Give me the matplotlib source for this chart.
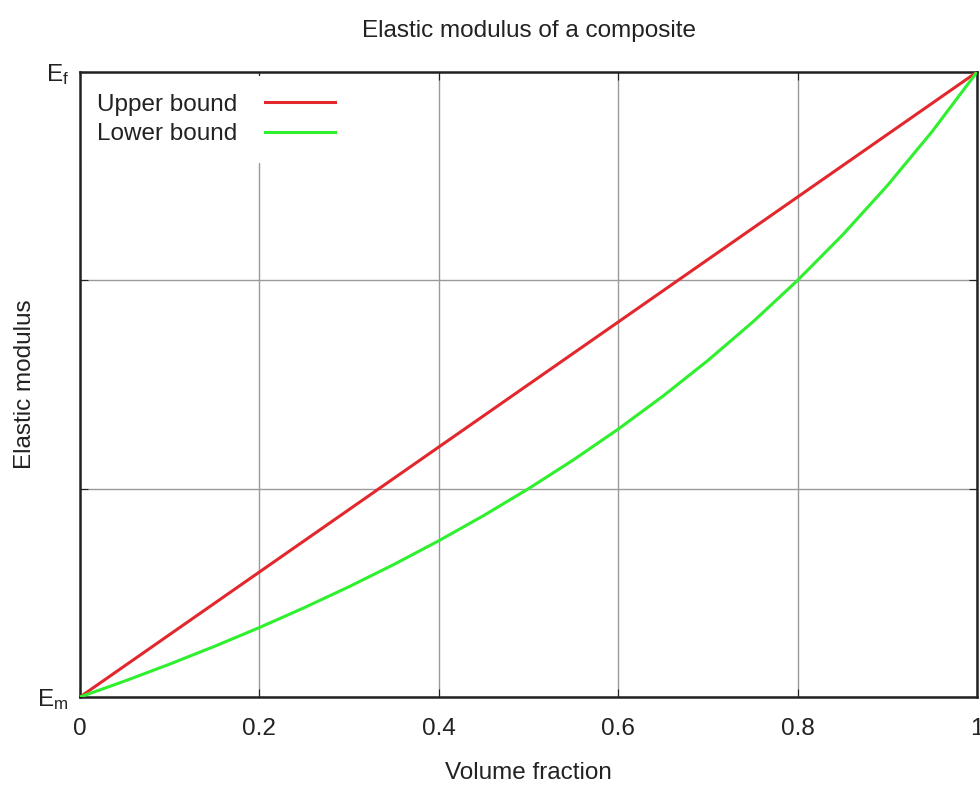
import matplotlib
matplotlib.use("Agg")
import matplotlib.pyplot as plt

plt.rcParams['font.family'] = ['Liberation Sans', 'DejaVu Sans']

# Data (volume fraction vs normalized modulus, Em=1, Ef=2)
volume_fraction = [0.0, 0.05, 0.1, 0.15, 0.2, 0.25, 0.3, 0.35, 0.4, 0.45, 0.5,
                   0.55, 0.6, 0.65, 0.7, 0.75, 0.8, 0.85, 0.9, 0.95, 1.0]
upper_bound = [1.0, 1.05, 1.1, 1.15, 1.2, 1.25, 1.3, 1.35, 1.4, 1.45, 1.5,
               1.55, 1.6, 1.65, 1.7, 1.75, 1.8, 1.85, 1.9, 1.95, 2.0]
lower_bound = [1.0, 1.0256, 1.0526, 1.0811, 1.1111, 1.1429, 1.1765, 1.2121,
               1.25, 1.2903, 1.3333, 1.3793, 1.4286, 1.4815, 1.5385, 1.6,
               1.6667, 1.7391, 1.8182, 1.9048, 2.0]
x_ticks = [0, 0.2, 0.4, 0.6, 0.8, 1.0]
x_tick_labels = ['0', '0.2', '0.4', '0.6', '0.8', '1']
y_ticks = [1.0, 4/3, 5/3, 2.0]
y_tick_labels = ['$\\mathregular{E_m}$', '', '', '$\\mathregular{E_f}$']

FS = 17.5
TXT = '#222222'

fig = plt.figure(figsize=(9.8, 7.87), dpi=100)
ax = fig.add_axes([80/980, 1-697/787, (977-80)/980, (697-72)/787])

ax.plot(volume_fraction, upper_bound, color='#e2282d', lw=2.2, label='Upper bound', zorder=3)
ax.plot(volume_fraction, lower_bound, color='#2ef02e', lw=2.2, label='Lower bound', zorder=3)

ax.set_xlim(0, 1)
ax.set_ylim(1, 2)
ax.set_xticks(x_ticks)
ax.set_xticklabels(x_tick_labels)
ax.set_yticks(y_ticks)
ax.set_yticklabels(y_tick_labels)
ax.grid(True, color='#9a9a9a', lw=1.0)
ax.tick_params(direction='in', length=6, top=True, right=True, labelsize=FS,
               colors=TXT)
ax.tick_params(axis='x', pad=15)
ax.tick_params(axis='y', pad=8)
for s in ax.spines.values():
    s.set_color(TXT)
    s.set_linewidth(1.8)

ax.set_xlabel('Volume fraction', fontsize=FS, color=TXT, labelpad=16)
ax.set_ylabel('Elastic modulus', fontsize=FS, color=TXT, labelpad=1)
ax.set_title('Elastic modulus of a composite', fontsize=FS, color=TXT, pad=25)

leg = ax.legend(loc='upper left', bbox_to_anchor=(-0.001, 0.9935), markerfirst=False,
                frameon=True, fontsize=FS, handlelength=2.9, handletextpad=1.15,
                labelspacing=0.32, borderpad=0.72, borderaxespad=0.0)
leg.get_frame().set_edgecolor('none')
leg.get_frame().set_facecolor('white')
leg.get_frame().set_alpha(1.0)
leg.get_frame().set_boxstyle('square', pad=0)
leg.set_zorder(2.0)
for t in leg.get_texts():
    t.set_color(TXT)

fig.savefig('out.png', dpi=100, facecolor='white')
